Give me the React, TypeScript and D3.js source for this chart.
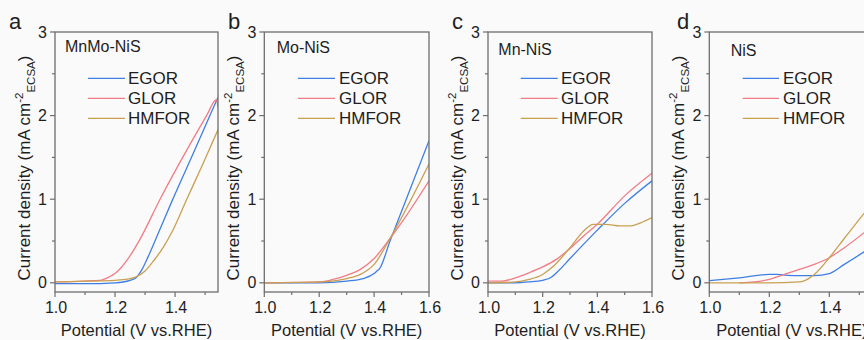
import React from 'react';
import * as d3 from 'd3';

type Pt = [number, number];

const seriesNames = ['EGOR', 'GLOR', 'HMFOR'];
const seriesColors = ['#3f7fe3', '#f27c86', '#c9a052'];
const panelLetters = ['a', 'b', 'c', 'd'];
const panelNames = ['MnMo-NiS', 'Mo-NiS', 'Mn-NiS', 'NiS'];
const xMajorTicks = [1.0, 1.2, 1.4, 1.6];
const xMinorTicks = [1.1, 1.3, 1.5];
const yMajorTicks = [0, 1, 2, 3];
const yMinorTicks = [0.5, 1.5, 2.5];

// Panel a: MnMo-NiS
const aEGOR: Pt[] = [[1.0, -0.01], [1.1, -0.01], [1.2, 0.0], [1.25, 0.03], [1.27, 0.06], [1.29, 0.16], [1.31, 0.31], [1.333, 0.5], [1.39, 0.98], [1.467, 1.6], [1.516, 2.0], [1.543, 2.22]];
const aGLOR: Pt[] = [[1.0, 0.01], [1.1, 0.02], [1.15, 0.03], [1.18, 0.07], [1.2, 0.11], [1.22, 0.18], [1.24, 0.27], [1.26, 0.38], [1.283, 0.52], [1.35, 1.0], [1.444, 1.62], [1.508, 2.02], [1.533, 2.18], [1.538, 2.19], [1.543, 2.1]];
const aHMFOR: Pt[] = [[1.0, 0.01], [1.1, 0.02], [1.2, 0.03], [1.25, 0.05], [1.27, 0.07], [1.3, 0.14], [1.33, 0.27], [1.36, 0.42], [1.39, 0.61], [1.439, 1.0], [1.49, 1.4], [1.543, 1.83]];

// Panel b: Mo-NiS
const bEGOR: Pt[] = [[1.0, 0.0], [1.2, 0.0], [1.3, 0.02], [1.36, 0.05], [1.4, 0.11], [1.41, 0.14], [1.42, 0.17], [1.458, 0.5], [1.6, 1.7]];
const bGLOR: Pt[] = [[1.0, 0.0], [1.2, 0.01], [1.25, 0.04], [1.3, 0.09], [1.35, 0.16], [1.4, 0.29], [1.458, 0.53], [1.5, 0.72], [1.6, 1.22]];
const bHMFOR: Pt[] = [[1.0, 0.0], [1.2, 0.01], [1.3, 0.05], [1.35, 0.1], [1.4, 0.22], [1.458, 0.53], [1.6, 1.42]];

// Panel c: Mn-NiS
const cEGOR: Pt[] = [[1.0, 0.0], [1.1, 0.0], [1.15, 0.01], [1.2, 0.03], [1.233, 0.07], [1.26, 0.15], [1.3, 0.29], [1.4, 0.63], [1.5, 0.95], [1.6, 1.22]];
const cGLOR: Pt[] = [[1.0, 0.02], [1.05, 0.02], [1.1, 0.06], [1.15, 0.12], [1.2, 0.19], [1.25, 0.28], [1.3, 0.41], [1.35, 0.56], [1.4, 0.7], [1.5, 1.04], [1.6, 1.31]];
const cHMFOR: Pt[] = [[1.0, 0.0], [1.1, 0.01], [1.15, 0.04], [1.2, 0.1], [1.24, 0.2], [1.3, 0.42], [1.35, 0.62], [1.385, 0.7], [1.43, 0.7], [1.483, 0.68], [1.52, 0.68], [1.56, 0.72], [1.6, 0.78]];

// Panel d: NiS
const dEGOR: Pt[] = [[1.0, 0.025], [1.1, 0.06], [1.2, 0.1], [1.225, 0.1], [1.26, 0.09], [1.3, 0.085], [1.35, 0.085], [1.4, 0.11], [1.45, 0.22], [1.516, 0.37], [1.55, 0.45]];
const dGLOR: Pt[] = [[1.1, 0.0], [1.15, 0.01], [1.2, 0.04], [1.25, 0.1], [1.3, 0.16], [1.35, 0.22], [1.4, 0.3], [1.45, 0.42], [1.516, 0.6], [1.55, 0.7]];
const dHMFOR: Pt[] = [[1.0, 0.0], [1.2, 0.0], [1.3, 0.01], [1.32, 0.03], [1.35, 0.1], [1.4, 0.3], [1.45, 0.53], [1.516, 0.83], [1.55, 0.98]];

const panelSeries: Pt[][][] = [
  [aEGOR, aGLOR, aHMFOR],
  [bEGOR, bGLOR, bHMFOR],
  [cEGOR, cGLOR, cHMFOR],
  [dEGOR, dGLOR, dHMFOR],
];
const panelXMax = [1.543, 1.6, 1.6, 1.55];

// layout (positions only)
const layout = [
  { left: 55, right: 218, letterX: 9, nameX: 65, nameY: 51.5, lineX0: 88, lineX1: 125, textX: 128 },
  { left: 264.3, right: 429, letterX: 228, nameX: 276.7, nameY: 53, lineX0: 298, lineX1: 335, textX: 339 },
  { left: 488, right: 652, letterX: 452, nameX: 498.3, nameY: 54.5, lineX0: 520.7, lineX1: 557.7, textX: 561 },
  { left: 709.3, right: 874.3, letterX: 677, nameX: 730.7, nameY: 56, lineX0: 742.7, lineX1: 779, textX: 783 },
];
const TOP = 32;
const BOTTOM = 292;
const FONT = "'Liberation Sans', Arial, Helvetica, sans-serif";
const AXIS = '#6e6e6e';
const TEXT = '#1e1e1e';

function Panel({ idx }: { idx: number }) {
  const L = layout[idx];
  const x = d3.scaleLinear().domain([1.0, panelXMax[idx]]).range([L.left, L.right]);
  const y = d3.scaleLinear().domain([-0.11, 3]).range([BOTTOM, TOP]);
  const line = d3
    .line<Pt>()
    .x((d) => x(d[0]))
    .y((d) => y(d[1]))
    .curve(d3.curveMonotoneX);
  const clipId = `clip-${idx}`;
  const legendRowY = [78.3, 98.3, 118.3];
  const xMaj = xMajorTicks.filter((t) => t <= panelXMax[idx] + 1e-9);
  const xMin = xMinorTicks.filter((t) => t <= panelXMax[idx] + 1e-9);
  const ytX = L.left - 25;
  const ytY = 168;
  return (
    <g>
      <defs>
        <clipPath id={clipId}>
          <rect x={L.left} y={TOP} width={L.right - L.left} height={BOTTOM - TOP} />
        </clipPath>
      </defs>
      <g clipPath={`url(#${clipId})`}>
        {panelSeries[idx].map((s, i) => (
          <path key={i} d={line(s) || ''} fill="none" stroke={seriesColors[i]} strokeWidth={1.3} />
        ))}
      </g>
      <rect x={L.left} y={TOP} width={L.right - L.left} height={BOTTOM - TOP} fill="none" stroke={AXIS} strokeWidth={1.3} />
      {xMaj.map((t) => (
        <g key={'xM' + t}>
          <line x1={x(t)} x2={x(t)} y1={BOTTOM} y2={BOTTOM + 5} stroke={AXIS} strokeWidth={1.2} />
          <text x={x(t) + 1} y={313} textAnchor="middle" fontSize={16} fill={TEXT} fontFamily={FONT}>
            {t.toFixed(1)}
          </text>
        </g>
      ))}
      {xMin.map((t) => (
        <line key={'xm' + t} x1={x(t)} x2={x(t)} y1={BOTTOM} y2={BOTTOM + 3} stroke={AXIS} strokeWidth={1.2} />
      ))}
      {yMajorTicks.map((t) => (
        <g key={'yM' + t}>
          <line x1={L.left - 5} x2={L.left} y1={y(t)} y2={y(t)} stroke={AXIS} strokeWidth={1.2} />
          <text x={L.left - 8} y={y(t) + 5.6} textAnchor="end" fontSize={16} fill={TEXT} fontFamily={FONT}>
            {t}
          </text>
        </g>
      ))}
      {yMinorTicks.map((t) => (
        <line key={'ym' + t} x1={L.left - 3} x2={L.left} y1={y(t)} y2={y(t)} stroke={AXIS} strokeWidth={1.2} />
      ))}
      <text x={(L.left + L.right) / 2} y={336} textAnchor="middle" fontSize={16.5} fill={TEXT} fontFamily={FONT}>
        Potential (V vs.RHE)
      </text>
      <text
        transform={`translate(${ytX},${ytY}) rotate(-90)`}
        textAnchor="middle"
        fontSize={17}
        fill={TEXT}
        fontFamily={FONT}
      >
        Current density (mA cm
        <tspan fontSize={11.5} dy={-7}>-2</tspan>
        <tspan fontSize={11.5} dy={12}>ECSA</tspan>
        <tspan dy={-5}>)</tspan>
      </text>
      <text x={L.letterX} y={29} fontSize={22} fill={TEXT} fontFamily={FONT}>
        {panelLetters[idx]}
      </text>
      <text x={L.nameX} y={L.nameY} fontSize={16} fill={TEXT} fontFamily={FONT}>
        {panelNames[idx]}
      </text>
      {seriesNames.map((n, i) => (
        <g key={n}>
          <line x1={L.lineX0} x2={L.lineX1} y1={legendRowY[i]} y2={legendRowY[i]} stroke={seriesColors[i]} strokeWidth={1.3} />
          <text x={L.textX} y={legendRowY[i] + 6} fontSize={17} fill={TEXT} fontFamily={FONT}>
            {n}
          </text>
        </g>
      ))}
    </g>
  );
}

export default function App() {
  return (
    <svg
      width={864}
      height={340}
      viewBox="0 0 864 340"
      style={{ position: 'absolute', left: 0, top: 0, background: '#fafafa', display: 'block' }}
    >
      <rect x={0} y={0} width={864} height={340} fill="#fafafa" />
      {[0, 1, 2, 3].map((i) => (
        <Panel key={i} idx={i} />
      ))}
    </svg>
  );
}
